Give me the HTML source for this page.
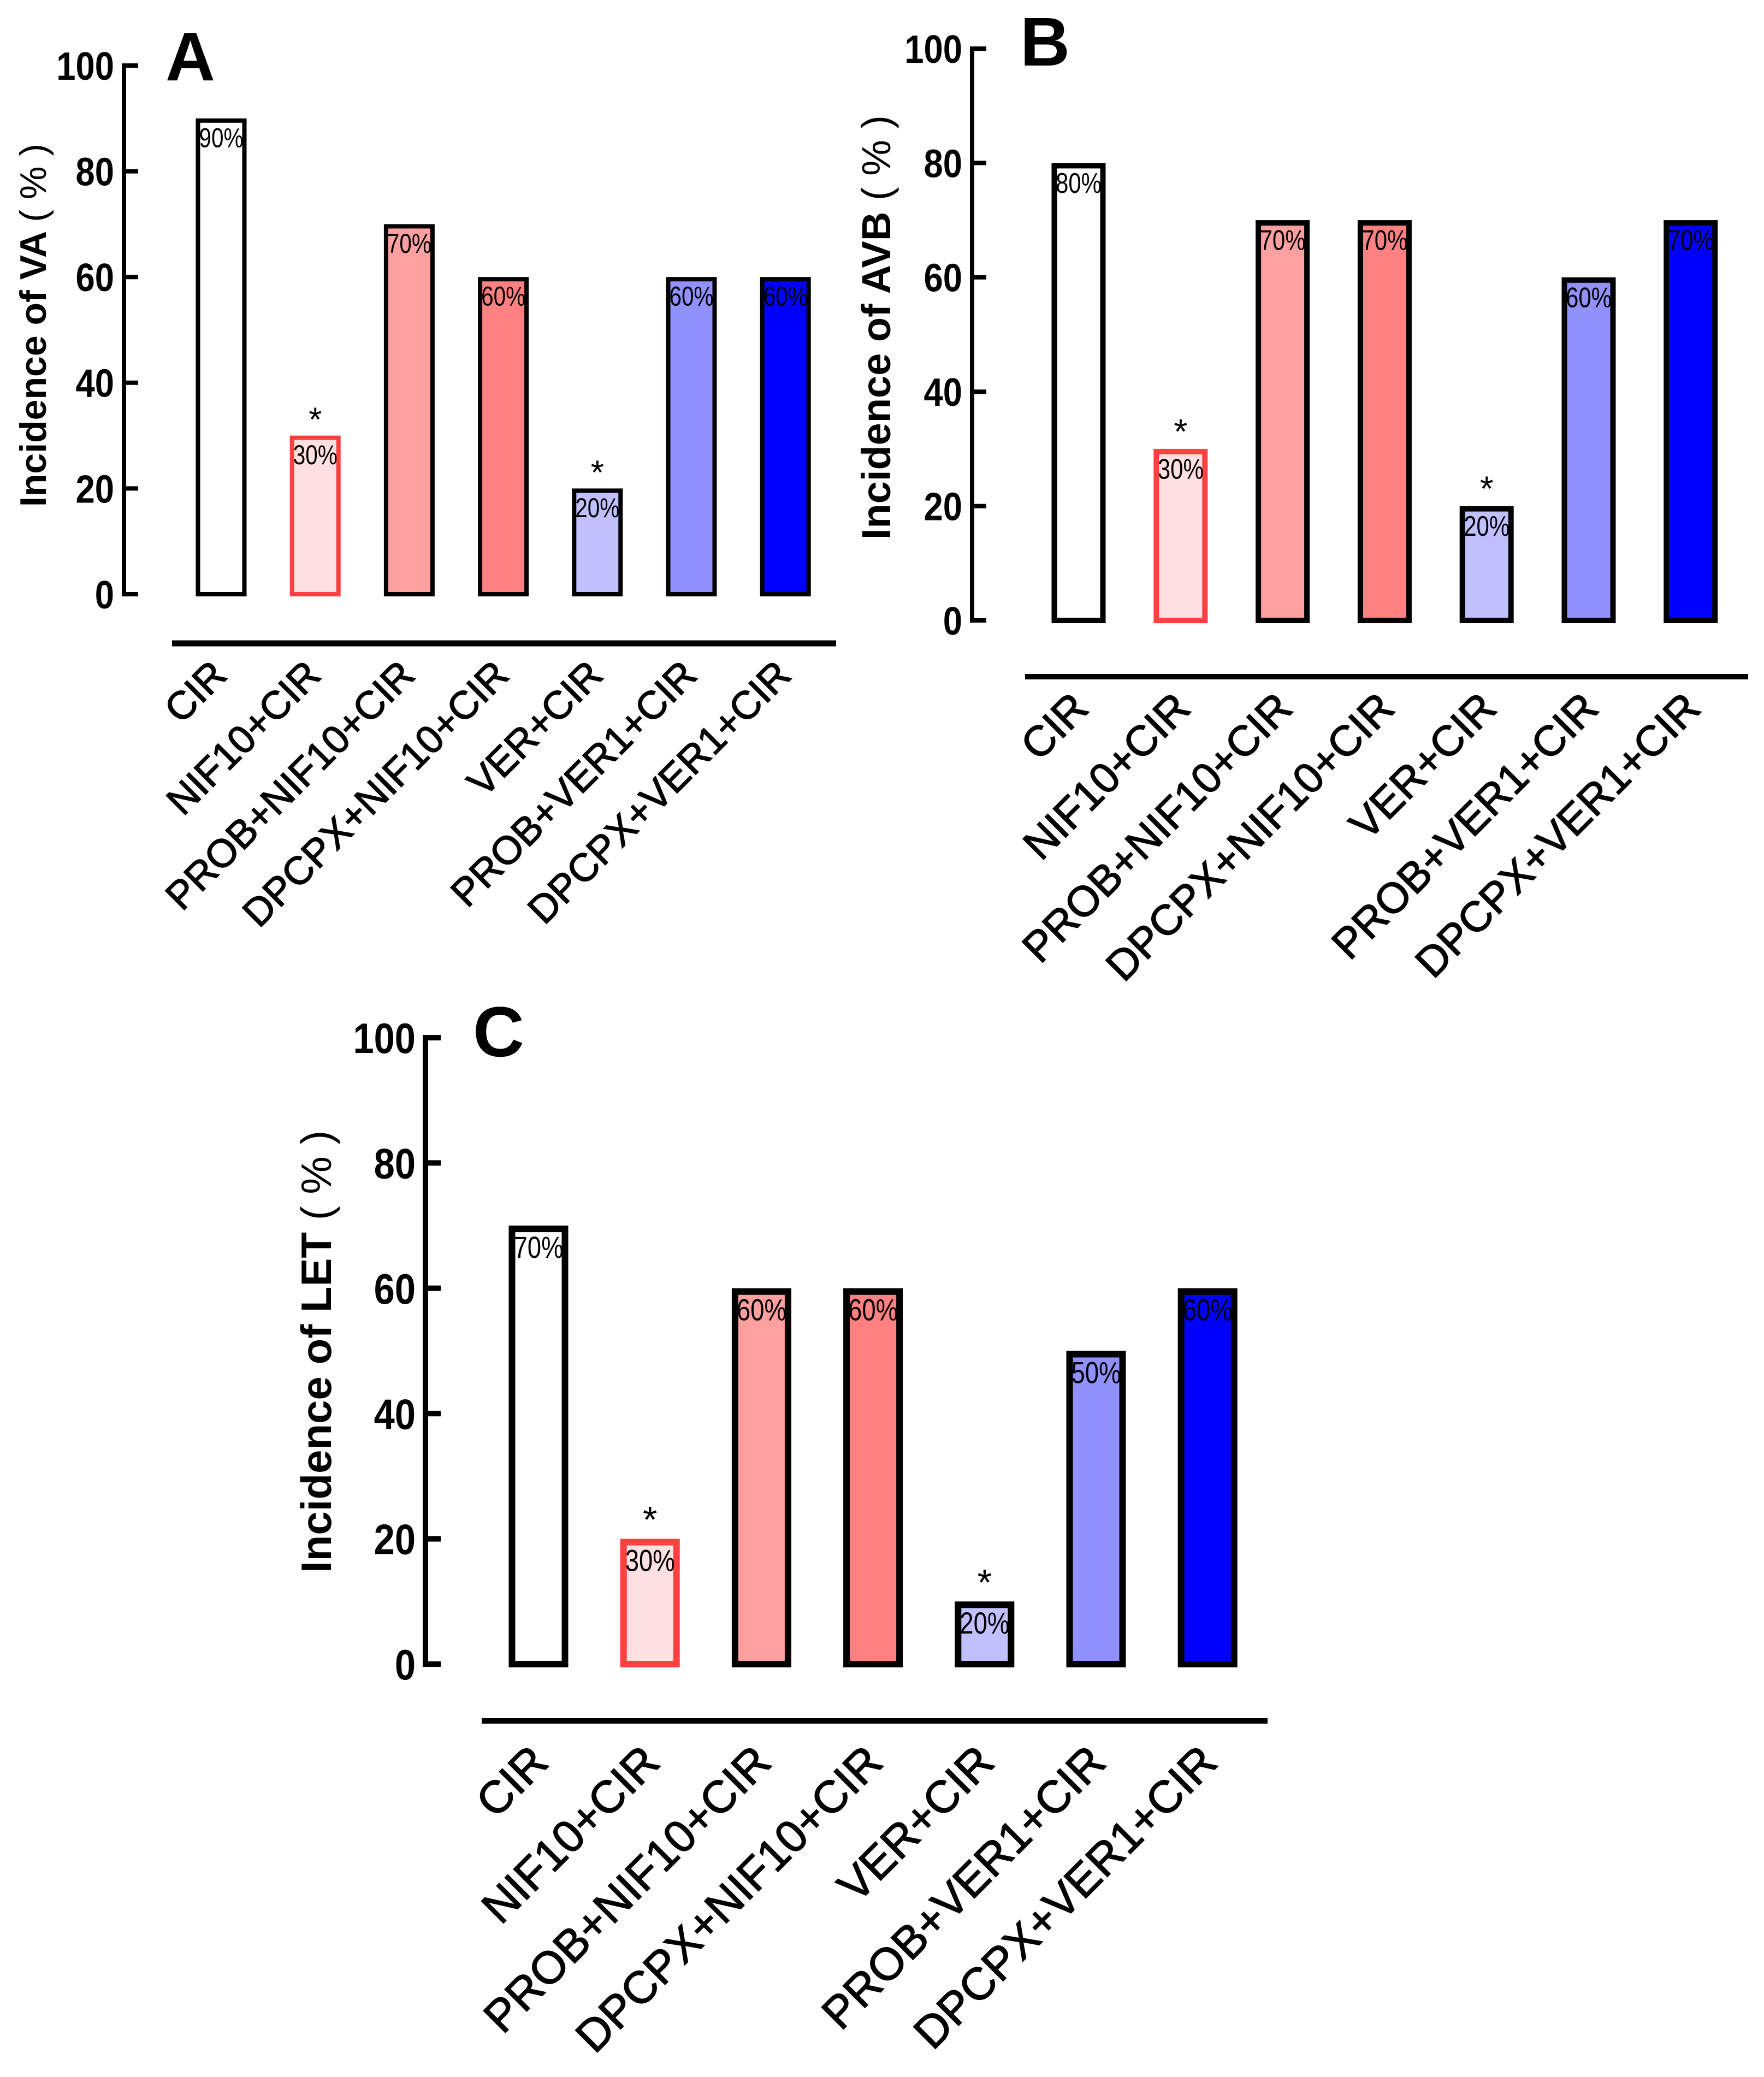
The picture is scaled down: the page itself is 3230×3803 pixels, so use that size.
<!DOCTYPE html>
<html><head><meta charset="utf-8"><style>
html,body{margin:0;padding:0;background:#fff;}
svg{display:block;font-family:"Liberation Sans",Arial,sans-serif;}
</style></head><body>
<svg id="fig" width="3230" height="3803" viewBox="0 0 3230 3803" xmlns="http://www.w3.org/2000/svg"></svg>
<script>
const categories = ["CIR","NIF10+CIR","PROB+NIF10+CIR","DPCPX+NIF10+CIR","VER+CIR","PROB+VER1+CIR","DPCPX+VER1+CIR"];
const valuesA = [90,30,70,60,20,60,60];
const labelsA = ["90%","30%","70%","60%","20%","60%","60%"];
const valuesB = [80,30,70,70,20,60,70];
const labelsB = ["80%","30%","70%","70%","20%","60%","70%"];
const valuesC = [70,20,60,60,10,50,60];
const labelsC = ["70%","30%","60%","60%","20%","50%","60%"];
const starred = [1,4];
const yTicks = [0,20,40,60,80,100];
const fills = ["#ffffff","#ffe0e0","#ffa0a0","#ff8080","#c0c0ff","#9090ff","#0000ff"];
const strokes = ["#000","#ff4040","#000","#000","#000","#000","#000"];

const NS="http://www.w3.org/2000/svg";
const svg=document.getElementById('fig');
function mk(tag,attrs,parent,txt){const e=document.createElementNS(NS,tag);for(const k in attrs)e.setAttribute(k,attrs[k]);if(txt!==undefined)e.textContent=txt;(parent||svg).appendChild(e);return e;}

function panel(p){
  const g=mk('g',{});
  
  
  const y=v=>p.y0-(p.y0-p.y100)*v/100;
  const x=i=>p.c0+i*p.dx;
  const ax=mk('line',{x1:p.ax,x2:p.ax,y1:y(100)-p.aw/2,y2:y(0)+p.aw/2,stroke:'#000','stroke-width':p.aw},g);
  
  
  yTicks.forEach(t=>{
    const tk=mk('line',{x1:p.ax,x2:p.ax+p.tl,y1:y(t),y2:y(t),stroke:'#000','stroke-width':p.aw},g);
    
    
    const tl=mk('text',{x:p.ax-18,y:y(t)+p.tf*0.36,'text-anchor':'end','font-size':p.tf,'font-weight':'bold',transform:`translate(${p.ax-18},0) scale(0.88,1) translate(${-(p.ax-18)},0)`},g,String(t));
    
    
  });
  const tt=mk('text',{x:0,y:0,'font-size':p.ttf,'font-weight':'bold',transform:`translate(${p.tx},${p.ty}) rotate(-90)`},g);
  
  
  mk('tspan',{},tt,p.title+'  ');
  mk('tspan',{'font-weight':'normal'},tt,'( % )');
  const lt=mk('text',{x:p.lx,y:p.ly,'font-size':p.lf,'font-weight':'bold'},g,p.letter);
  
  
  p.vals.forEach((v,i)=>{
    const cx=x(i), top=y(v), bot=y(0);
    const r=mk('rect',{x:cx-p.bw/2+p.bs/2,y:top+p.bs/2,width:p.bw-p.bs,height:bot-top-p.bs/2,fill:fills[i],stroke:strokes[i],'stroke-width':p.bs},g);
    
    
    const pl=mk('text',{x:cx,y:top+p.pf*1.05,'text-anchor':'middle','font-size':p.pf,textLength:p.bw-p.bs*1.5,lengthAdjust:'spacingAndGlyphs',fill:'#000'},g,p.labs[i]);
    
    
    if(starred.includes(i)){
      const st=mk('text',{x:cx,y:top-p.bs,'text-anchor':'middle','font-size':p.sf},g,'*');
      
      
    }
    const cl=mk('text',{x:0,y:0,'text-anchor':'end','font-size':p.xf,stroke:'#000','stroke-width':1.5,transform:`translate(${cx+p.lox},${p.hy+p.loy}) rotate(-45)`},g,categories[i]);
    
    
  });
  const hl=mk('line',{x1:p.hx1,x2:p.hx2,y1:p.hy,y2:p.hy,stroke:'#000','stroke-width':p.hw},g);
  
  
}

panel({letter:'A',title:'Incidence of VA',vals:valuesA,labs:labelsA,ax:227,y0:1088,y100:120,c0:405,dx:172.2,bw:93,bs:8,aw:8,tl:26,tf:72,
  ttf:68,tx:84,ty:928,lx:303,ly:147,lf:126,pf:50,sf:62,xf:72,lox:14,loy:62,hy:1178,hx1:315,hx2:1531,hw:11});
panel({letter:'B',title:'Incidence of AVB',vals:valuesB,labs:labelsB,ax:1780,y0:1136,y100:89,c0:1975,dx:186.8,bw:99,bs:10,aw:8,tl:26,tf:72,
  ttf:74,tx:1630,ty:988,lx:1868,ly:120,lf:126,pf:52,sf:64,xf:78,lox:22,loy:62,hy:1239,hx1:1877,hx2:3201,hw:10});
panel({letter:'C',title:'Incidence of LET',vals:valuesC,labs:labelsC,ax:779,y0:3047,y100:1900,c0:986,dx:204.2,bw:109,bs:12,aw:10,tl:28,tf:78,
  ttf:78,tx:606,ty:2880,lx:866,ly:1934,lf:130,pf:56,sf:68,xf:83,lox:22,loy:80,hy:3151,hx1:882,hx2:2321,hw:10});
</script>
</body></html>
